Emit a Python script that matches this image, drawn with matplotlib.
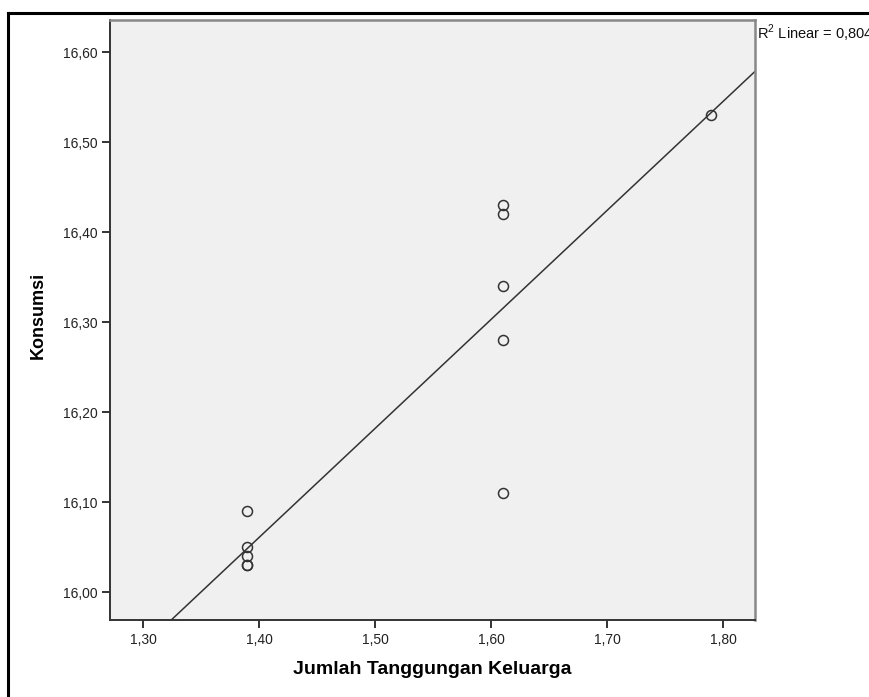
#!/usr/bin/env python

"""
Scatter of Konsumsi against Jumlah Tanggungan Keluarga with a linear fit line
"""

import numpy as np
import matplotlib
matplotlib.use("Agg")
import matplotlib.pyplot as plt
from matplotlib.lines import Line2D
from matplotlib.ticker import FixedLocator, FuncFormatter

plt.rcParams['font.family'] = ['Liberation Sans', 'DejaVu Sans']
plt.rcParams['mathtext.fontset'] = 'custom'
plt.rcParams['mathtext.rm'] = 'Liberation Sans'

# log values per respondent
tanggungan = [1.39, 1.39, 1.39, 1.39, 1.39,
              1.61, 1.61, 1.61, 1.61, 1.61,
              1.79]
konsumsi = [16.09, 16.05, 16.04, 16.03, 16.03,
            16.43, 16.42, 16.34, 16.28, 16.11,
            16.53]

xTicks = [1.30, 1.40, 1.50, 1.60, 1.70, 1.80]
yTicks = [16.00, 16.10, 16.20, 16.30, 16.40, 16.50, 16.60]
xLim = (1.2716, 1.8276)
yLim = (15.969, 16.6356)

x = np.array(tanggungan)
y = np.array(konsumsi)
slope, intercept = np.polyfit(x, y, 1)
r2 = np.corrcoef(x, y)[0, 1] ** 2

W, H = 869, 697
fig = plt.figure(figsize=(W / 100.0, H / 100.0), dpi=100)
fig.patch.set_facecolor('white')

# chart frame (left and top edge visible)
fig.add_artist(Line2D([8.0 / W, 8.0 / W], [0, 1 - 13.0 / H], transform=fig.transFigure,
                      color='black', lw=2.2))
fig.add_artist(Line2D([8.0 / W, 1], [1 - 13.0 / H, 1 - 13.0 / H], transform=fig.transFigure,
                      color='black', lw=2.2))

ax = fig.add_axes([110.0 / W, (H - 620.0) / H, 645.0 / W, 600.0 / H])
ax.set_facecolor('#f0f0f0')

ax.plot(x, y, linestyle='none', marker='o', markersize=7.2, markerfacecolor='none',
        markeredgecolor='#333333', markeredgewidth=1.1, zorder=3)

xs = np.array(xLim)
ax.plot(xs, slope * xs + intercept, color='#333333', lw=1.1, zorder=2)

ax.set_xlim(*xLim)
ax.set_ylim(*yLim)

fmt = FuncFormatter(lambda v, p: ("%.2f" % v).replace('.', ','))
ax.xaxis.set_major_locator(FixedLocator(xTicks))
ax.yaxis.set_major_locator(FixedLocator(yTicks))
ax.xaxis.set_major_formatter(fmt)
ax.yaxis.set_major_formatter(fmt)
ax.tick_params(direction='out', length=6, width=1.4, color='#333333',
               labelsize=10, labelcolor='#222222', pad=3)

for side in ['left', 'bottom']:
    ax.spines[side].set_color('#333333')
    ax.spines[side].set_linewidth(1.4)
for side in ['top', 'right']:
    ax.spines[side].set_color('#888888')
    ax.spines[side].set_linewidth(1.8)

ax.set_xlabel('Jumlah Tanggungan Keluarga', fontsize=14, fontweight='bold', va='center')
ax.set_ylabel('Konsumsi', fontsize=13, fontweight='bold', va='center')
ax.xaxis.set_label_coords(0.4992, -0.0833)
ax.yaxis.set_label_coords(-0.1116, 0.508)

fig.text(757.0 / W, 1 - 33.0 / H, r'R$^2$ Linear = ' + ("%.3f" % r2).replace('.', ','),
         fontsize=10.5, color='#111111', ha='left', va='center')

fig.savefig('out.png', dpi=100)
